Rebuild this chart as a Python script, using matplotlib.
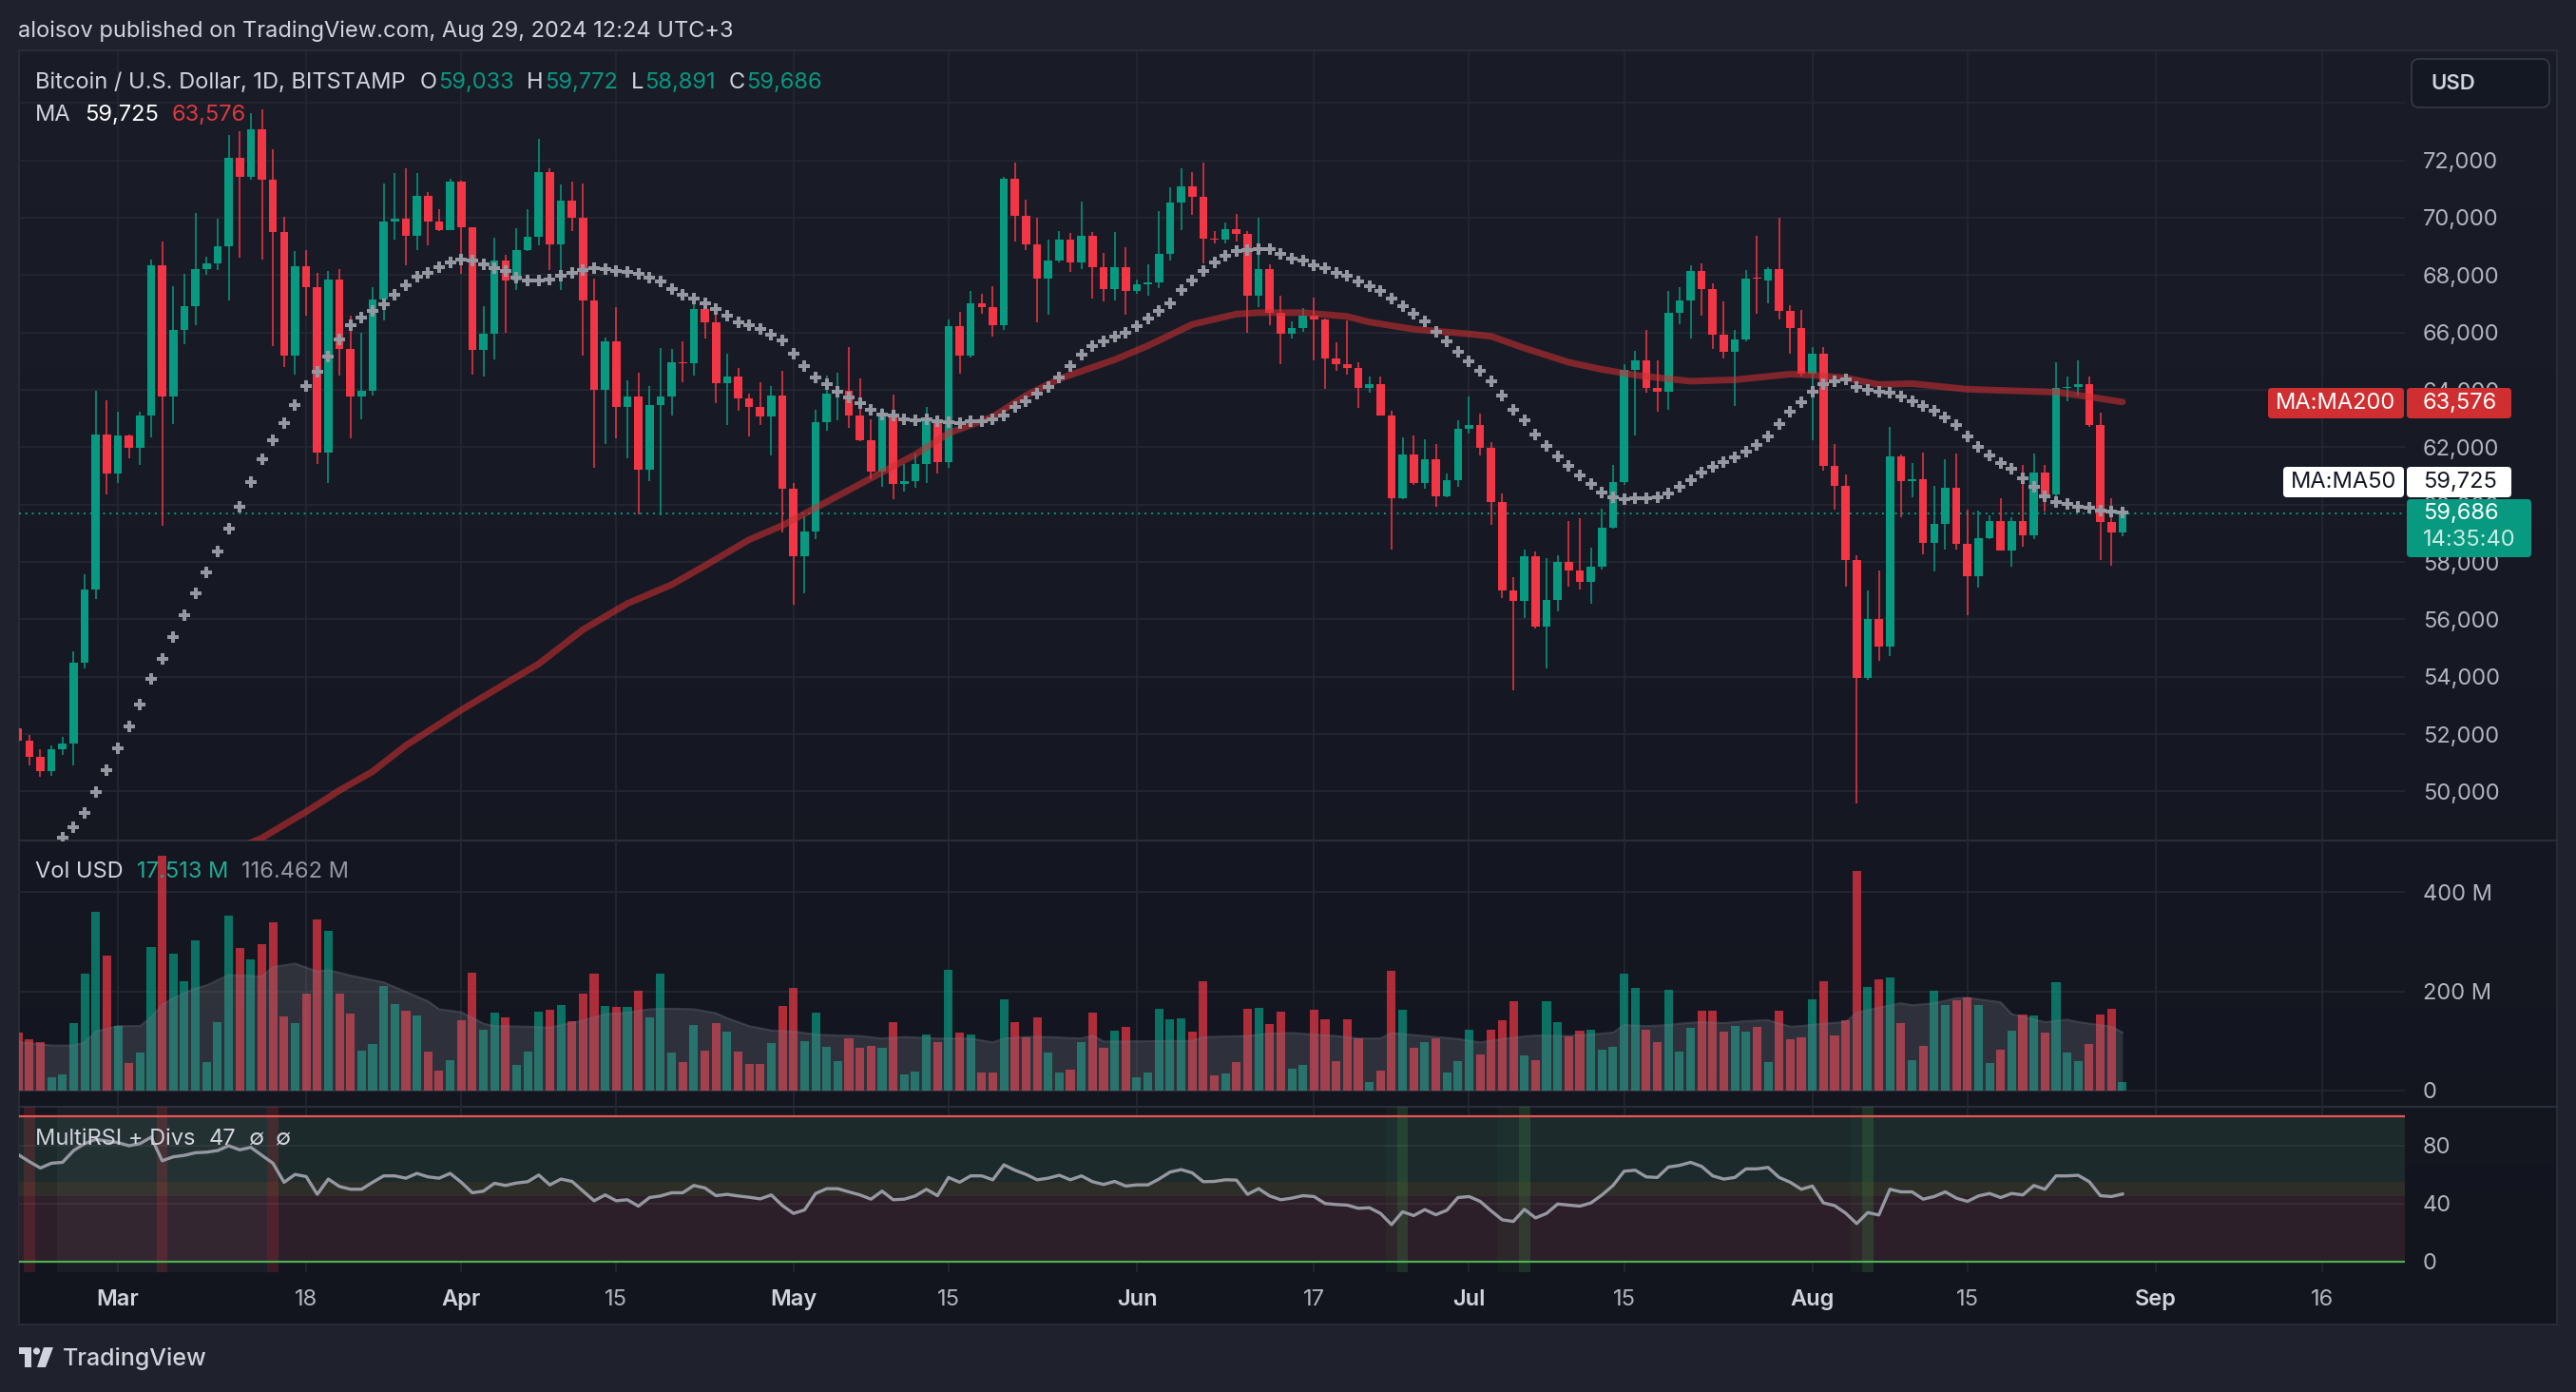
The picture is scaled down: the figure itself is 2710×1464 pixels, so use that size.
import numpy as np
import pandas as pd
import matplotlib
matplotlib.use("Agg")
import matplotlib.pyplot as plt
import matplotlib.dates as mdates
from matplotlib.colors import LinearSegmentedColormap
from matplotlib.patches import Rectangle, FancyBboxPatch, Circle, Polygon

plt.rcParams['font.family'] = ['Inter', 'DejaVu Sans']

# ---------------- data ----------------
first_day = '2024-02-21'

opens = [
    52214, 51770, 51192, 50697, 51489, 51687, 54490, 57045, 62453,
    61085, 62404, 61992, 63113, 68340, 63756, 66081, 66922, 68224, 68422, 69000, 72082, 71439, 73088, 71340, 69494,
    65207, 68307, 67565, 61827, 67845, 65421, 63756, 63970, 67152, 69873, 69972, 69378, 70763, 69857, 69576,
    71258, 69659, 65405, 65949, 68505, 67796, 68867, 69329, 71588, 69082, 70599, 69988, 67103, 64003, 65701,
    63393, 63773, 61233, 63476, 63773, 64960, 64927, 66823, 66361, 64218, 64465, 63690, 63393, 63063, 63805,
    60557, 58199, 59057, 62882, 63855, 63970, 63113, 62239, 61135, 63063, 60722, 60805, 61415, 62931, 61497,
    66229, 65207, 67021, 66889, 66246, 71357, 70071, 69082, 67894, 68505, 69247, 68455, 69362, 68290, 67515, 68290,
    67433, 67680, 67730, 68752, 70516, 71093, 70730, 69280, 69240, 69609, 69444, 67268, 68208, 66691, 65949,
    66163, 66576, 66444, 65092, 64910, 64778, 64053, 64185, 63113, 60228, 61744, 60755, 61580, 60294, 60838,
    62651, 62783, 61992, 60096, 57012, 56633, 58199, 55759, 56683, 58002, 57705, 57293, 57837, 59189, 60788,
    64712, 65042, 64053, 63937, 66691, 67103, 68142, 67515, 65916, 65339, 65751, 67927, 67800, 68224, 66740, 66147,
    64547, 65256, 61365, 60640, 58084, 53946, 56007, 55067, 61695, 60805, 60887, 58678, 59321, 60590, 58645,
    57491, 58826, 59436, 58398, 59436, 58942, 61118, 60343, 64053, 64102, 64185, 62783, 59387, 59033,
]
highs = [
    52380, 51984, 51472, 51604, 51901, 54902, 57573, 63970, 63640,
    63228, 62450, 63228, 68537, 69164, 67614, 68043, 70170, 68640, 69972, 72874, 73006, 73649, 73781, 72379,
    70022, 68834, 68867, 68092, 68142, 68208, 66576, 65982, 67565, 71192, 71555, 71720, 71555, 70895, 70300, 71357,
    71300, 69680, 66905, 69296, 68702, 69626, 70285, 72742, 71720, 71143, 71258, 71192, 67894, 65817, 66889,
    64333, 64597, 64135, 65454, 65421, 65701, 67219, 67186, 67021, 65256, 64762, 63855, 64267, 64135, 64679,
    60755, 59601, 63311, 64498, 64597, 65487, 64383, 62981, 63360, 63838, 61415, 61794, 63393, 63030, 66444,
    66724, 67433, 67350, 67598, 71439, 71918, 70615, 69988, 69247, 69527, 69461, 70566, 69494, 68785, 69494, 68966,
    67850, 68373, 70236, 71060, 71720, 71588, 71918, 69527, 69824, 70120, 69527, 69988, 68389, 67268, 66394,
    66856, 67219, 66500, 65652, 66411, 64960, 64465, 64465, 63278, 62355, 62404, 62272, 62124, 61085, 62931,
    63772, 63179, 62189, 60393, 57458, 58447, 58364, 58150, 58233, 59436, 59519, 58496, 59849, 61382, 64910,
    65372, 66081, 65042, 67433, 67565, 68340, 68422, 67713, 67070, 66081, 68175, 69378, 68290, 69988, 66938, 66773,
    65504, 65504, 62107, 61052, 58233, 57012, 57705, 62701, 61750, 61448, 61827, 60656, 61580, 61778, 59816,
    59799, 59634, 60228, 59568, 61382, 61794, 61382, 64960, 64465, 65042, 64465, 63195, 60211, 59772,
]
lows = [
    50615, 50895, 50500, 50550, 51258, 50895, 54300, 56715, 60343,
    60756, 61612, 61381, 62354, 59271, 62816, 65586, 66246, 68000, 68175, 67103, 68620, 71340, 68554, 65537,
    64795, 64514, 66576, 61415, 60755, 64498, 62322, 62981, 63805, 66411, 69247, 68340, 68867, 69032, 69527, 69560,
    68059, 64514, 64465, 65075, 65982, 67466, 68840, 69049, 68175, 67466, 69543, 65207, 61299, 62124, 62322,
    61629, 59667, 60805, 59634, 63113, 64267, 64498, 65784, 63525, 62767, 63278, 62371, 62767, 61712, 59024,
    56501, 56913, 58810, 62569, 62931, 62684, 62200, 60871, 60623, 60178, 60458, 60590, 60755, 61085, 61299,
    64580, 65124, 66641, 65866, 66081, 69164, 68884, 66361, 66609, 68450, 68125, 68224, 67185, 67070, 67103, 66609,
    67350, 67268, 67548, 68505, 69576, 70104, 68422, 69115, 69115, 69164, 65998, 66889, 66246, 64910, 65784,
    66032, 65042, 64020, 64663, 64514, 63360, 63888, 63100, 58447, 60200, 60673, 60557, 59931, 60250, 60623,
    62486, 61711, 59304, 56749, 53533, 56056, 55693, 54292, 56270, 57128, 57045, 56551, 57738, 59150, 60673,
    62404, 63888, 63228, 63311, 66279, 65784, 66576, 65421, 65092, 63426, 65700, 66641, 67021, 66444, 65256, 64465,
    62239, 61167, 59816, 57128, 49576, 53900, 54539, 54737, 59552, 60261, 58282, 57656, 58447, 58447, 56139,
    57095, 58800, 58398, 57821, 58530, 58810, 59766, 60300, 63591, 63805, 62700, 58084, 57870, 58891,
]
closes = [
    51770, 51192, 50697, 51489, 51687, 54490, 57045, 62453, 61085,
    62404, 61992, 63113, 68340, 63756, 66081, 66922, 68224, 68422, 69000, 72082, 71439, 73088, 71340, 69494,
    65207, 68307, 67565, 61827, 67845, 65421, 63756, 63970, 67152, 69873, 69972, 69378, 70763, 69857, 69576, 71258,
    69659, 65405, 65949, 68505, 67796, 68867, 69329, 71588, 69082, 70599, 69988, 67103, 64003, 65701, 63393,
    63773, 61233, 63476, 63773, 64960, 64927, 66823, 66361, 64218, 64465, 63690, 63393, 63063, 63805, 60557,
    58199, 59057, 62882, 63855, 63970, 63113, 62239, 61135, 63063, 60722, 60805, 61415, 62931, 61497, 66229,
    65207, 67021, 66889, 66246, 71357, 70071, 69082, 67894, 68505, 69247, 68455, 69362, 68290, 67515, 68290, 67433,
    67680, 67730, 68752, 70516, 71093, 70730, 69280, 69240, 69609, 69444, 67268, 68208, 66691, 65949, 66163,
    66576, 66444, 65092, 64910, 64778, 64053, 64185, 63113, 60228, 61744, 60755, 61580, 60294, 60838, 62651,
    62783, 61992, 60096, 57012, 56633, 58199, 55759, 56683, 58002, 57705, 57293, 57837, 59189, 60788, 64712,
    65042, 64053, 63937, 66691, 67103, 68142, 67515, 65916, 65339, 65751, 67878, 67878, 68224, 66740, 66147, 64547,
    65256, 61365, 60640, 58084, 53946, 56007, 55067, 61695, 60805, 60887, 58678, 59321, 60590, 58645, 57491,
    58826, 59436, 58398, 59436, 58942, 61118, 60343, 64053, 64102, 64185, 62783, 59387, 59033, 59686,
]
# volume, millions USD
volumes = [
    117, 104, 98, 26, 32, 137, 236, 361, 272,
    130, 55, 77, 289, 474, 276, 220, 302, 58, 138, 352, 287, 264, 295, 340, 150,
    137, 196, 344, 321, 196, 156, 81, 93, 211, 175, 161, 152, 79, 41, 62,
    142, 237, 123, 157, 148, 51, 79, 159, 163, 173, 140, 196, 236, 171, 169,
    169, 201, 148, 236, 77, 58, 133, 81, 137, 119, 79, 53, 53, 95, 171,
    207, 100, 157, 89, 60, 106, 87, 91, 87, 138, 32, 39, 114, 98, 243,
    116, 114, 36, 37, 184, 138, 108, 148, 77, 36, 43, 98, 157, 87, 121, 129,
    26, 37, 165, 144, 146, 119, 220, 30, 34, 58, 165, 167, 135, 159, 45,
    51, 163, 144, 60, 144, 106, 18, 41, 241, 163, 87, 98, 106, 36, 60,
    123, 72, 123, 142, 180, 70, 62, 180, 138, 110, 121, 123, 83, 89, 236,
    206, 123, 98, 203, 79, 127, 161, 161, 119, 131, 119, 129, 58, 161, 104, 108,
    184, 220, 112, 142, 443, 209, 224, 228, 137, 62, 91, 201, 173, 182, 188,
    173, 55, 83, 121, 154, 152, 117, 218, 76, 60, 93, 154, 165, 18,
]
rsi = [
    73.6, 68.8, 64.4, 67.7, 68.3, 76.4, 81.2, 84.1, 83.0,
    81.9, 79.7, 81.2, 85.6, 69.4, 72.1, 73.1, 74.9, 75.3, 76.4, 79.7, 76.9, 78.6, 73.1, 67.7, 54.6,
    60.0, 58.5, 46.3, 56.8, 51.7, 49.8, 49.8, 54.6, 59.0, 59.0, 57.4, 60.7, 58.3, 57.4, 60.7,
    54.6, 47.4, 48.5, 53.9, 52.4, 54.1, 55.0, 59.6, 52.8, 56.8, 55.2, 48.5, 41.9, 45.9, 41.9,
    42.6, 38.2, 44.1, 45.2, 47.4, 47.4, 52.4, 50.7, 45.4, 46.3, 45.2, 44.3, 43.2, 45.9, 38.6,
    33.2, 35.6, 46.9, 50.2, 50.2, 48.0, 45.9, 43.0, 48.5, 42.6, 43.0, 45.2, 49.8, 45.4, 57.9,
    54.6, 59.0, 59.0, 56.3, 66.6, 62.9, 60.0, 56.3, 57.4, 59.4, 56.3, 59.0, 55.0, 53.1, 55.2, 52.0,
    52.8, 52.8, 56.8, 61.6, 63.3, 61.1, 55.0, 55.2, 56.3, 56.1, 46.3, 50.2, 45.2, 42.6, 43.7,
    45.4, 44.8, 40.0, 39.3, 38.9, 36.7, 37.1, 33.2, 25.5, 34.3, 31.7, 35.8, 32.3, 35.4, 44.1,
    44.8, 41.5, 34.9, 28.8, 27.7, 36.0, 30.1, 33.2, 39.7, 38.9, 38.2, 40.4, 45.9, 52.4, 62.2,
    62.9, 58.3, 57.9, 65.1, 66.2, 68.3, 65.5, 59.0, 56.8, 57.9, 63.8, 63.8, 64.8, 57.9, 54.6, 49.8,
    52.0, 40.4, 38.6, 33.4, 26.2, 33.8, 32.1, 49.8, 48.0, 48.0, 43.0, 44.8, 48.0, 43.7, 41.5,
    45.2, 46.9, 44.1, 46.9, 45.9, 52.4, 49.8, 59.0, 59.0, 59.4, 55.0, 45.4, 44.8, 46.5,
]

# MA50 (crosses), one value per day from Feb 25
ma50_start = '2024-02-25'
ma50 = [
    48389, 48752, 49264, 49989, 50747,
    51506, 52264, 53039, 53913, 54622, 55380, 56139, 56913, 57622, 58364, 59156, 59931, 60788, 61596, 62239,
    62849, 63476, 64135, 64630, 65157, 65751, 66246, 66526, 66740, 66988, 67301, 67631, 67960, 68092, 68290, 68455,
    68554, 68504, 68373, 68257, 68142, 67927, 67796, 67796, 67845, 67977, 68092, 68175, 68257, 68224, 68158,
    68125, 68043, 67927, 67763, 67515, 67317, 67186, 67021, 66823, 66576, 66345, 66246, 66114, 65932, 65735,
    65256, 64844, 64415, 64185, 63937, 63723, 63525, 63311, 63146, 63096, 62981, 62931, 62981, 62899, 62866,
    62849, 62899, 62899, 62981, 63113, 63393, 63608, 63855, 64086, 64415, 64844, 65240, 65537, 65701, 65866, 65998,
    66229, 66493, 66740, 67021, 67466, 67812, 68142, 68455, 68669, 68834, 68884, 68917, 68917, 68752, 68587,
    68505, 68340, 68257, 68092, 67977, 67763, 67598, 67433, 67186, 66905, 66658, 66394, 66031, 65701, 65339,
    65009, 64679, 64300, 63805, 63311, 62931, 62453, 62041, 61695, 61365, 61003, 60706, 60425, 60250, 60178,
    60211, 60211, 60261, 60393, 60623, 60838, 61118, 61332, 61497, 61662, 61860, 62074, 62371, 62816, 63228, 63558,
    63921, 64185, 64300, 64350, 64086, 64003, 63921, 63888, 63773, 63607, 63443, 63261, 63030, 62767, 62371,
    62025, 61712, 61448, 61250, 60920, 60623, 60294, 60096, 60013, 59931, 59881, 59799, 59766, 59725,
]

# MA200 (line), read at points along the line
ma200_dates = ['03-12', '03-14', '03-18', '03-21', '03-24', '03-27', '04-01', '04-06', '04-08', '04-12',
               '04-16', '04-20', '04-23', '04-27', '04-30', '05-04', '05-08', '05-12', '05-15', '05-19',
               '05-22', '05-25', '05-27', '05-30', '06-02', '06-06', '06-10', '06-12', '06-16', '06-20',
               '06-22', '06-26', '07-01', '07-03', '07-06', '07-10', '07-13', '07-16', '07-21', '07-25',
               '07-30', '08-01', '08-04', '08-07', '08-10', '08-15', '08-19', '08-23', '08-26', '08-29']
ma200_vals = [48050, 48380, 49296, 50038, 50697, 51604, 52841, 53995, 54450, 55644,
              56551, 57210, 57870, 58777, 59271, 60096, 60920, 61745, 62487, 63063,
              63805, 64383, 64650, 65050, 65537, 66279, 66642, 66691, 66691, 66559,
              66361, 66114, 65949, 65866, 65454, 64960, 64712, 64514, 64300, 64350,
              64547, 64514, 64416, 64185, 64218, 64020, 63970, 63921, 63756, 63576]

# volume moving average (grey area), millions
vol_ma_dates = ['02-21', '02-24', '02-26', '02-27', '02-28', '03-01', '03-03', '03-04', '03-05', '03-06',
                '03-08', '03-09', '03-11', '03-14', '03-15', '03-17', '03-19', '03-20', '03-22', '03-25',
                '03-27', '03-29', '03-30', '04-01', '04-03', '04-04', '04-07', '04-09', '04-12', '04-14',
                '04-16', '04-18', '04-20', '04-22', '04-24', '04-25', '04-27', '04-29', '05-01', '05-03',
                '05-05', '05-07', '05-09', '05-11', '05-14', '05-17', '05-19', '05-20', '05-22', '05-24',
                '05-27', '05-28', '05-29', '05-31', '06-04', '06-06', '06-07', '06-11', '06-13', '06-15',
                '06-19', '06-21', '06-23', '06-24', '06-27', '06-30', '07-02', '07-04', '07-06', '07-07',
                '07-10', '07-12', '07-14', '07-15', '07-17', '07-19', '07-20', '07-22', '07-24', '07-26',
                '07-28', '07-30', '07-31', '08-02', '08-04', '08-05', '08-07', '08-09', '08-10', '08-12',
                '08-14', '08-15', '08-18', '08-19', '08-22', '08-24', '08-25', '08-27', '08-28', '08-29']
vol_ma_vals = [98, 91, 91, 97, 119, 130, 130, 148, 173, 186,
               206, 212, 233, 230, 249, 256, 240, 243, 232, 218,
               199, 180, 164, 158, 135, 130, 129, 127, 141, 154,
               157, 164, 165, 164, 156, 146, 130, 121, 119, 113,
               111, 110, 105, 108, 105, 105, 97, 105, 108, 108,
               105, 111, 99, 99, 100, 100, 108, 110, 115, 116,
               110, 105, 105, 116, 110, 104, 97, 104, 109, 111,
               110, 113, 117, 132, 130, 132, 135, 138, 136, 140,
               142, 129, 130, 135, 138, 157, 167, 176, 172, 176,
               186, 187, 178, 154, 138, 143, 138, 132, 129, 117]

# RSI background markers
rsi_red_marks = ['02-22', '03-05', '03-15']
rsi_red_zone = ('02-25', '03-14')
rsi_green_marks = ['06-25', '07-06', '08-06']
rsi_green_zones = [('06-24', '06-24'), ('07-04', '07-05'), ('08-05', '08-05')]

tick_dates = ['2024-03-01', '2024-03-18', '2024-04-01', '2024-04-15', '2024-05-01', '2024-05-15',
              '2024-06-01', '2024-06-17', '2024-07-01', '2024-07-15', '2024-08-01', '2024-08-15',
              '2024-09-01', '2024-09-16']
tick_labels = ['Mar', '18', 'Apr', '15', 'May', '15', 'Jun', '17', 'Jul', '15', 'Aug', '15', 'Sep', '16']
price_ticks = list(range(50000, 72001, 2000))
last_price = 59686

# ---------------- styling ----------------
GREEN = '#089981'
RED = '#f23645'
TXT = '#d1d4dc'
AXT = '#b2b5be'
GRID = '#242833'
AXSIZE = 17

W, H = 2710, 1464


def box(x0, y0, x1, y1):
    return [x0 / W, 1 - y1 / H, (x1 - x0) / W, (y1 - y0) / H]


def d2n(md):
    return mdates.date2num(pd.Timestamp('2024-' + md))


days = pd.date_range(first_day, periods=len(closes), freq='D')
x = mdates.date2num(days)
o = np.array(opens, float)
c = np.array(closes, float)
hi = np.array(highs, float)
lo = np.array(lows, float)
col = np.where(c >= o, GREEN, RED)

mar1 = mdates.date2num(pd.Timestamp('2024-03-01'))
xlim = (mar1 - 8.93, mar1 + 206.5)
tick_x = mdates.date2num(pd.to_datetime(tick_dates))

fig = plt.figure(figsize=(W / 100, H / 100), dpi=100, facecolor='#1f222d')

# background layer (pixel coordinates)
bg = fig.add_axes([0, 0, 1, 1], zorder=-10)
grad = np.linspace(0, 1, 256)[:, None]
bg.imshow(grad, extent=(20, 2690, 1393, 53), aspect='auto',
          cmap=LinearSegmentedColormap.from_list('bgc', ['#1a1d28', '#12151e']))
bg.add_patch(Rectangle((20, 53), 2670, 1340, fill=False, ec='#2a2e39', lw=1.3))
bg.plot([20, 2690], [884, 884], color='#2a2e39', lw=1.5)
bg.plot([20, 2690], [1164, 1164], color='#2a2e39', lw=1.5)
bg.set_xlim(0, W)
bg.set_ylim(H, 0)
bg.axis('off')


def clean(a):
    a.set_facecolor('none')
    for s in a.spines.values():
        s.set_visible(False)
    a.set_xlim(*xlim)
    for tx in tick_x:
        a.axvline(tx, color=GRID, lw=1.2, zorder=0)


# ---------------- price pane ----------------
ax = fig.add_axes(box(20, 53, 2530, 884))
clean(ax)
for p in range(48000, 76001, 2000):
    ax.axhline(p, color=GRID, lw=1.2, zorder=0)
ax.axhline(last_price, color=GREEN, lw=1.4, ls=(0, (1, 2.5)), zorder=1)
ax.vlines(x, lo, hi, colors=col, lw=1.1, zorder=3)
body = np.maximum(np.abs(c - o), 45)
ax.bar(x, body, bottom=np.minimum(o, c), width=0.74, color=col, lw=0, zorder=4)
ax.plot([d2n(d) for d in ma200_dates], ma200_vals, color='#d02f31', alpha=0.57, lw=5,
        solid_capstyle='round', solid_joinstyle='round', zorder=5)
ma50_x = mdates.date2num(pd.date_range(ma50_start, periods=len(ma50), freq='D'))
ax.plot(ma50_x, ma50, ls='none', marker='P', ms=8, mew=0, color='#9598a1', zorder=6)
ax.yaxis.tick_right()
ax.set_yticks(price_ticks)
ax.set_yticklabels([f'{v:,}' for v in price_ticks])
ax.set_xticks([])
ax.tick_params(axis='y', length=0, pad=13.5, labelsize=AXSIZE, labelcolor=AXT)
ax.set_ylim(48292, 75831)
ax.set_xlim(*xlim)

# ---------------- volume pane ----------------
av = fig.add_axes(box(20, 884, 2530, 1164))
clean(av)
for v in (0, 200, 400):
    av.axhline(v, color=GRID, lw=1.2, zorder=0)
av.bar(x, volumes, width=0.78, color=col, alpha=0.7, lw=0, zorder=2)
vmx = [d2n(d) for d in vol_ma_dates]
av.fill_between(vmx, 0, vol_ma_vals, color='#787b86', alpha=0.27, lw=0, zorder=3)
av.plot(vmx, vol_ma_vals, color='#787b86', alpha=0.35, lw=1.5, zorder=3)
av.yaxis.tick_right()
av.set_yticks([0, 200, 400])
av.set_yticklabels(['0', '200 M', '400 M'])
av.set_xticks([])
av.tick_params(axis='y', length=0, pad=13.5, labelsize=AXSIZE, labelcolor=AXT)
av.set_ylim(-32.6, 504)
av.set_xlim(*xlim)

# ---------------- RSI pane ----------------
ar = fig.add_axes(box(20, 1164, 2530, 1338))
clean(ar)
ar.axhspan(55, 100, color='#1c2a2c', lw=0, zorder=0.1)
ar.axhspan(45, 55, color='#2d2e28', lw=0, zorder=0.1)
ar.axhspan(0, 45, color='#2c1f29', lw=0, zorder=0.1)
z0, z1 = rsi_red_zone
ar.axvspan(d2n(z0) - 0.5, d2n(z1) + 0.5, color='#ffffff', alpha=0.035, lw=0, zorder=0.2)
for d in rsi_red_marks:
    ar.axvspan(d2n(d) - 0.5, d2n(d) + 0.5, color=RED, alpha=0.18, lw=0, zorder=0.3)
for z0, z1 in rsi_green_zones:
    ar.axvspan(d2n(z0) - 0.5, d2n(z1) + 0.5, color='#4caf50', alpha=0.05, lw=0, zorder=0.2)
for d in rsi_green_marks:
    ar.axvspan(d2n(d) - 0.5, d2n(d) + 0.5, color='#4caf50', alpha=0.2, lw=0, zorder=0.3)
for v in (80, 40):
    ar.axhline(v, color='#ffffff', alpha=0.06, lw=1.2, zorder=0.4)
ar.axhline(100, color='#ef5350', lw=1.6, zorder=1)
ar.axhline(0, color='#4caf50', lw=1.6, zorder=1)
ar.plot(x, rsi, color='#9598a1', lw=2.4, zorder=3)
ar.yaxis.tick_right()
ar.set_yticks([0, 40, 80])
ar.set_yticklabels(['0', '40', '80'])
ar.set_xticks(tick_x)
ar.set_xticklabels(tick_labels)
ar.tick_params(axis='y', length=0, pad=13.5, labelsize=AXSIZE, labelcolor=AXT)
ar.tick_params(axis='x', length=0, pad=13, labelsize=AXSIZE, labelcolor=AXT)
for t in ar.get_xticklabels():
    if not t.get_text().isdigit():
        t.set_fontweight('semibold')
        t.set_color(TXT)
ar.set_ylim(-7.2, 106.5)
ar.set_xlim(*xlim)

# ---------------- overlay: texts, labels, logo ----------------
ov = fig.add_axes([0, 0, 1, 1], zorder=20)
ov.set_xlim(0, W)
ov.set_ylim(H, 0)
ov.axis('off')
rend = fig.canvas.get_renderer()


def text_run(x0, y0, pieces, size):
    for s, colr, gap in pieces:
        t = ov.text(x0, y0, s, color=colr, fontsize=size, va='center', ha='left')
        x0 += t.get_window_extent(rend).width + gap


ov.text(19, 33, 'aloisov published on TradingView.com, Aug 29, 2024 12:24 UTC+3',
        color=TXT, fontsize=17, va='center', ha='left')
text_run(37, 87, [('Bitcoin / U.S. Dollar, 1D, BITSTAMP', TXT, 15),
                  ('O', TXT, 1), ('59,033', GREEN, 14), ('H', TXT, 1), ('59,772', GREEN, 14),
                  ('L', TXT, 1), ('58,891', GREEN, 14), ('C', TXT, 1), ('59,686', GREEN, 0)], 17)
text_run(37, 121, [('MA', TXT, 14), ('59,725', '#ffffff', 14), ('63,576', '#e0393e', 0)], 17)
text_run(37, 917, [('Vol USD', TXT, 14), ('17.513 M', '#22ab94', 14), ('116.462 M', '#9598a1', 0)], 17)
text_run(37, 1198, [('MultiRSI + Divs', TXT, 14), ('47', TXT, 14), ('\u2205', TXT, 12), ('\u2205', TXT, 0)], 17)

# USD button
ov.add_patch(FancyBboxPatch((2537, 62), 145, 51, boxstyle='round,pad=0,rounding_size=8',
                            fc='#141823', ec='#363a45', lw=1.2))
ov.text(2557, 88, 'USD', color=TXT, fontsize=16, fontweight='semibold', va='center', ha='left')


# price-scale labels
def scale_label(x0, x1, y0, y1, s, fc, tc, ha='left', tx=None, ty=None):
    ov.add_patch(FancyBboxPatch((x0, y0), x1 - x0, y1 - y0, boxstyle='round,pad=0,rounding_size=4',
                                fc=fc, ec='none'))
    if tx is None:
        tx = (x0 + x1) / 2
    if ty is None:
        ty = (y0 + y1) / 2
    ov.text(tx, ty, s, color=tc, fontsize=AXSIZE, va='center', ha=ha)


scale_label(2386, 2529, 408, 440, 'MA:MA200', '#d02f31', '#ffffff', ha='center')
scale_label(2532, 2642, 408, 440, '63,576', '#d02f31', '#ffffff', tx=2549)
scale_label(2402, 2529, 491, 523, 'MA:MA50', '#ffffff', '#131722', ha='center')
scale_label(2532, 2642, 491, 523, '59,725', '#ffffff', '#131722', tx=2549)
scale_label(2532, 2663, 525, 586, '59,686', GREEN, '#ffffff', tx=2549, ty=540)
ov.text(2549, 568, '14:35:40', color='#c8ece5', fontsize=AXSIZE, va='center', ha='left')

# TradingView logo
LOGO = '#d1d4dc'
ov.add_patch(Rectangle((20, 1417), 13, 7, fc=LOGO, ec='none'))
ov.add_patch(Rectangle((26, 1417), 7, 21, fc=LOGO, ec='none'))
ov.add_patch(Circle((38.5, 1421), 3.6, fc=LOGO, ec='none'))
ov.add_patch(Polygon([(46, 1417), (56, 1417), (48, 1438), (39, 1438)], closed=True, fc=LOGO, ec='none'))
ov.text(66, 1429, 'TradingView', color=LOGO, fontsize=18, fontweight='medium', va='center', ha='left')

fig.savefig('out.png', dpi=100, facecolor=fig.get_facecolor())
